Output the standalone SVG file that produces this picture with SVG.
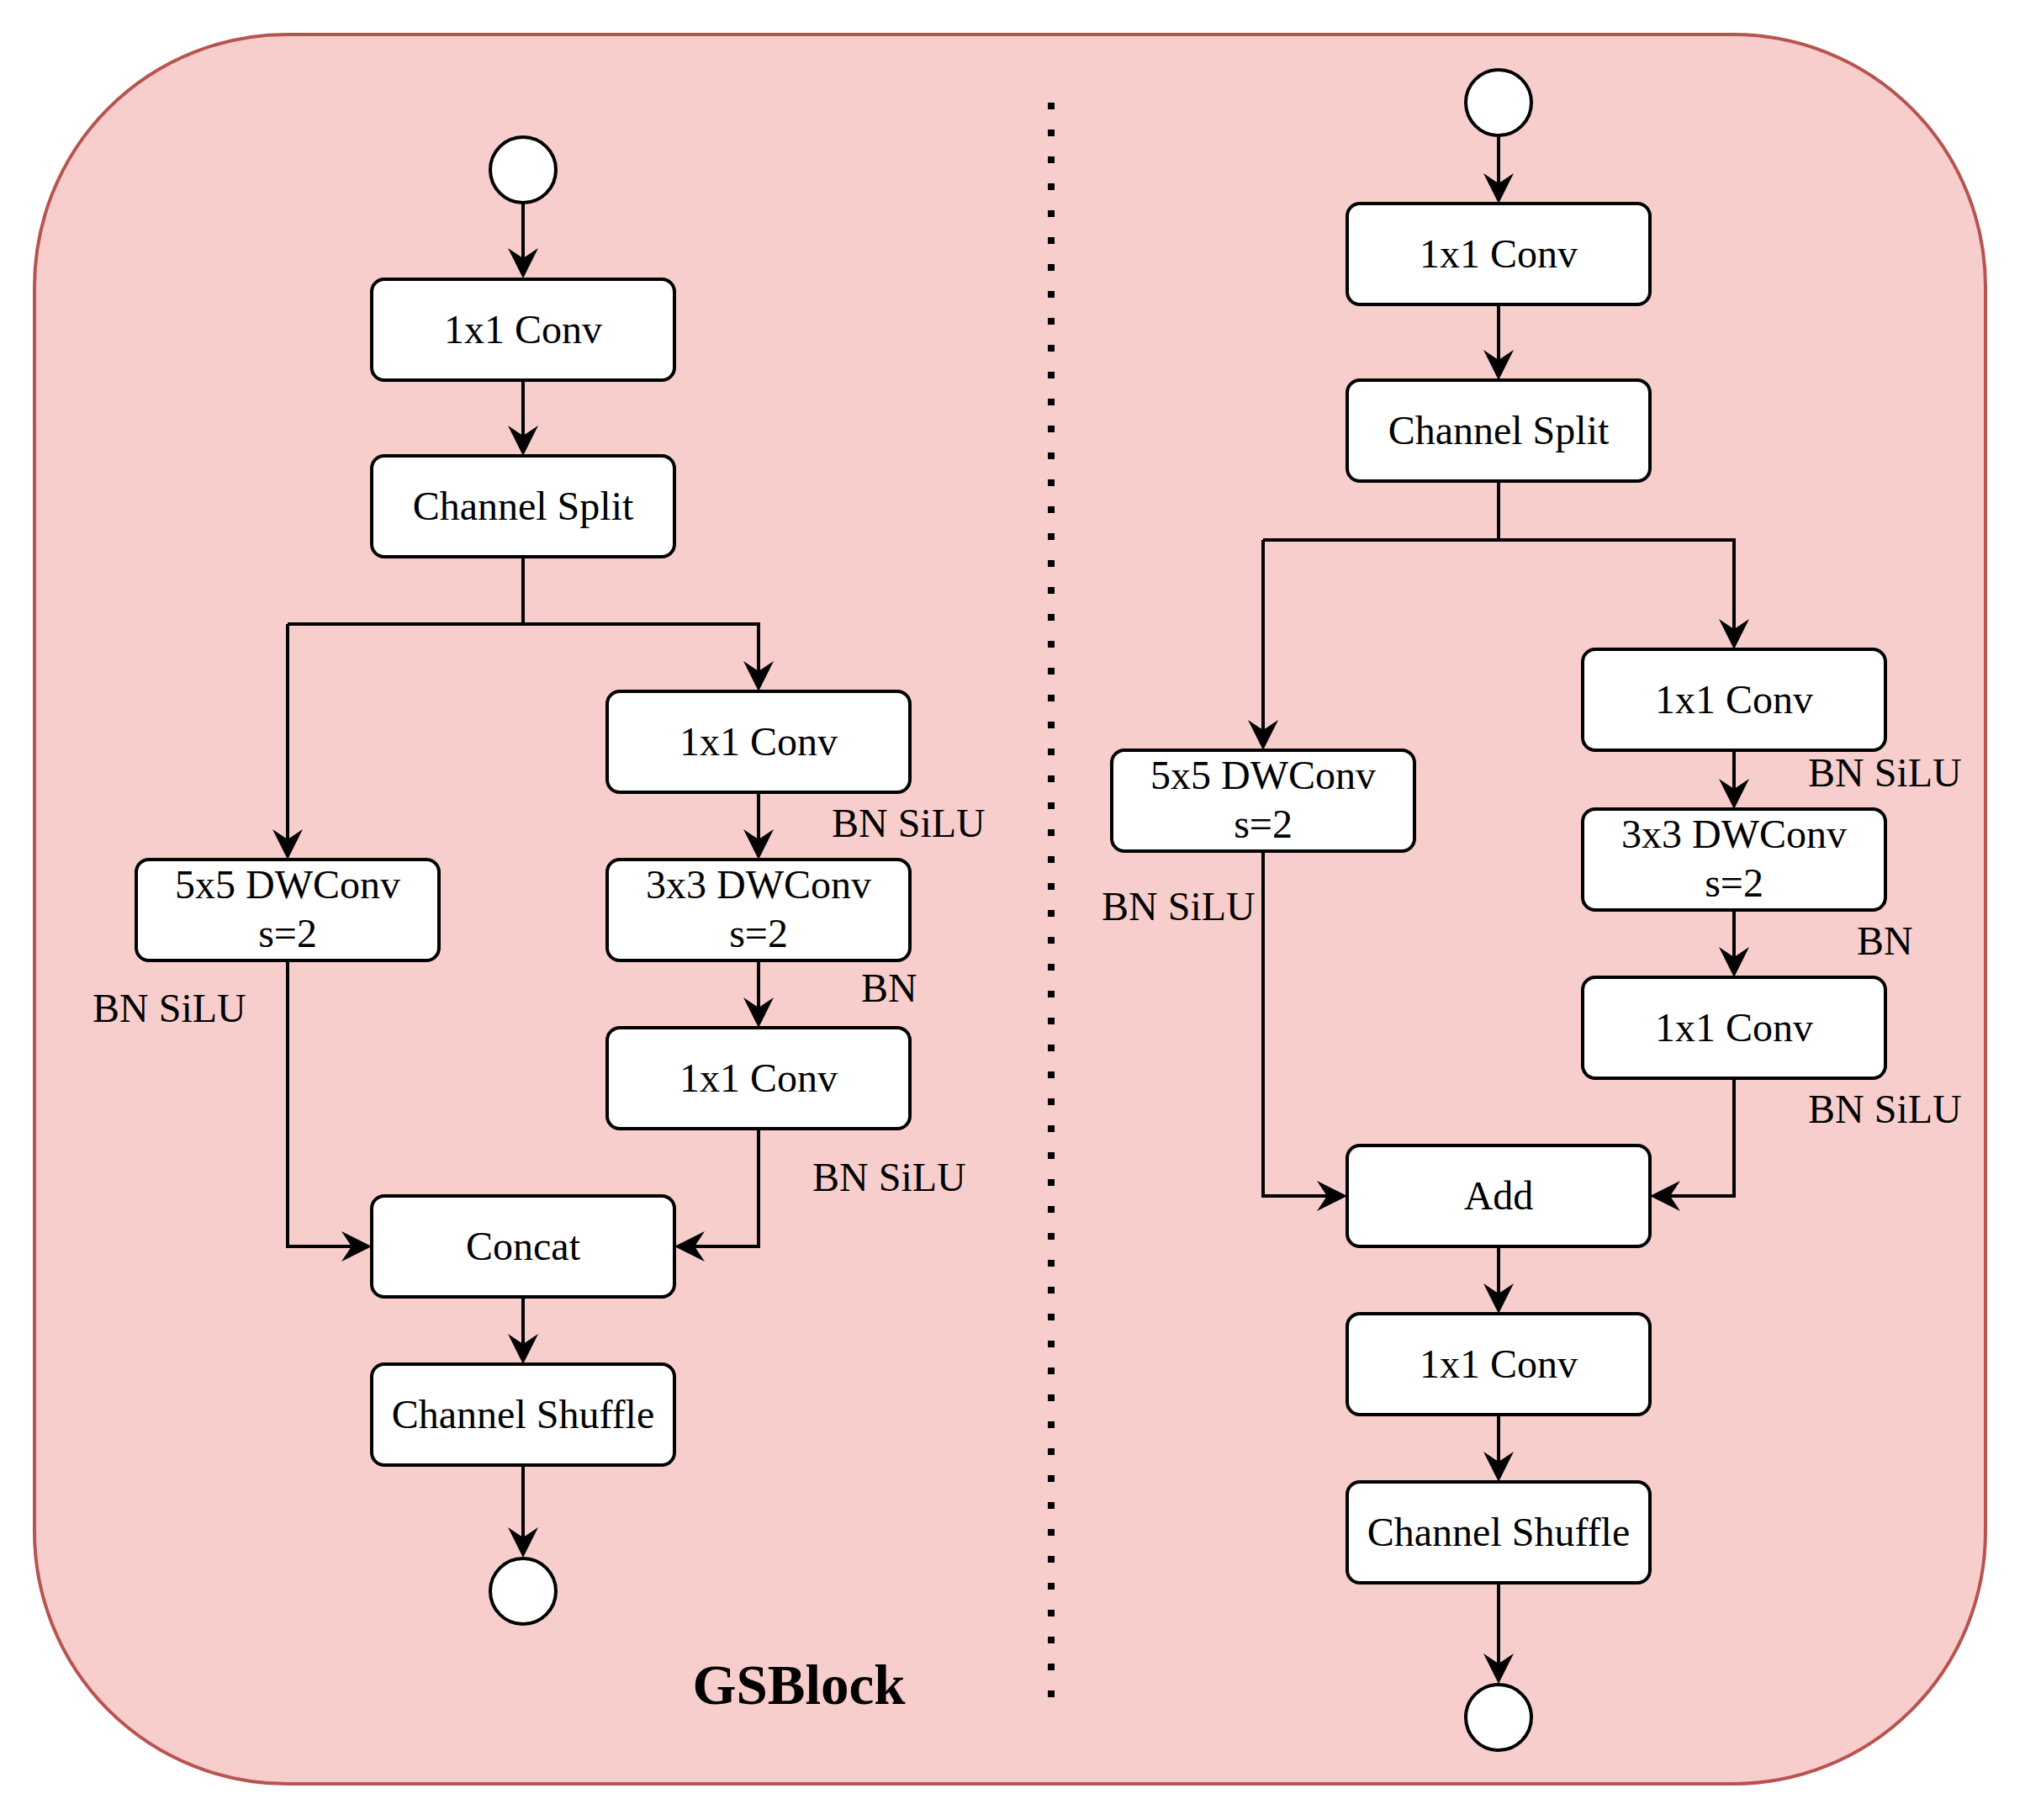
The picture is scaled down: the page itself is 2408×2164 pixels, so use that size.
<svg xmlns="http://www.w3.org/2000/svg" width="2408" height="2164" viewBox="0 0 2408 2164">
<defs>
<marker id="arr" markerUnits="userSpaceOnUse" viewBox="-40 -20 42 40" markerWidth="42" markerHeight="40" refX="-20" refY="0" orient="auto">
<path d="M0,0 L-36,-18 L-24,0 L-36,18 Z" fill="#000"/>
</marker>
<style>
.bg{fill:#f8cecc;stroke:#b85450;stroke-width:4}
.box{fill:#fff;stroke:#000;stroke-width:4}
.circ{fill:#fff;stroke:#000;stroke-width:4}
.t{font-family:"Liberation Serif","Times New Roman",serif;font-size:48px;fill:#000;text-anchor:middle}
.l{font-family:"Liberation Serif","Times New Roman",serif;font-size:48px;fill:#000}
.e{fill:none;stroke:#000;stroke-width:4;marker-end:url(#arr)}
.ln{fill:none;stroke:#000;stroke-width:4}
.title{font-family:"Liberation Serif","Times New Roman",serif;font-size:67px;font-weight:bold;fill:#000;text-anchor:middle}
</style>
</defs>
<rect width="2408" height="2164" fill="#fff"/>
<rect class="bg" x="41" y="41" width="2320" height="2080" rx="300" ry="300"/>
<line x1="1250" y1="122" x2="1250" y2="2020" stroke="#000" stroke-width="8" stroke-dasharray="8 24"/>
<text class="title" x="950" y="2026">GSBlock</text>

<g id="connectors">
<path class="e" d="M622,242 V311"/>
<path class="e" d="M622,452 V522"/>
<path class="ln" d="M622,662 V742 H342"/>
<path class="e" d="M342,742 V1002"/>
<path class="e" d="M622,742 H902 V802"/>
<path class="e" d="M902,942 V1002"/>
<path class="e" d="M902,1142 V1202"/>
<path class="e" d="M342,1142 V1482 H422"/>
<path class="e" d="M902,1342 V1482 H822"/>
<path class="e" d="M622,1542 V1602"/>
<path class="e" d="M622,1742 V1832"/>

<path class="e" d="M1782,162 V222"/>
<path class="e" d="M1782,362 V432"/>
<path class="ln" d="M1782,572 V642 H1502"/>
<path class="e" d="M1502,642 V872"/>
<path class="e" d="M1782,642 H2062 V752"/>
<path class="e" d="M2062,892 V942"/>
<path class="e" d="M2062,1082 V1142"/>
<path class="e" d="M1502,1012 V1422 H1582"/>
<path class="e" d="M2062,1282 V1422 H1982"/>
<path class="e" d="M1782,1482 V1542"/>
<path class="e" d="M1782,1682 V1742"/>
<path class="e" d="M1782,1882 V1982"/>
</g>

<g id="L_in"><circle class="circ" cx="622" cy="202" r="39"/></g>
<g id="L_conv1"><rect class="box" x="442" y="332" width="360" height="120" rx="15"/><text class="t" x="622" y="408">1x1 Conv</text></g>
<g id="L_split"><rect class="box" x="442" y="542" width="360" height="120" rx="15"/><text class="t" x="622" y="618">Channel Split</text></g>
<g id="L_conv2"><rect class="box" x="722" y="822" width="360" height="120" rx="15"/><text class="t" x="902" y="898">1x1 Conv</text></g>
<g id="L_dw5"><rect class="box" x="162" y="1022" width="360" height="120" rx="15"/><text class="t" x="342" y="1068">5x5 DWConv</text><text class="t" x="342" y="1126">s=2</text></g>
<g id="L_dw3"><rect class="box" x="722" y="1022" width="360" height="120" rx="15"/><text class="t" x="902" y="1068">3x3 DWConv</text><text class="t" x="902" y="1126">s=2</text></g>
<g id="L_conv3"><rect class="box" x="722" y="1222" width="360" height="120" rx="15"/><text class="t" x="902" y="1298">1x1 Conv</text></g>
<g id="L_concat"><rect class="box" x="442" y="1422" width="360" height="120" rx="15"/><text class="t" x="622" y="1498">Concat</text></g>
<g id="L_shuffle"><rect class="box" x="442" y="1622" width="360" height="120" rx="15"/><text class="t" x="622" y="1698">Channel Shuffle</text></g>
<g id="L_out"><circle class="circ" cx="622" cy="1892" r="39"/></g>
<g id="L_labels">
<text class="l" x="989" y="995">BN SiLU</text>
<text class="l" x="110" y="1215">BN SiLU</text>
<text class="l" x="1024" y="1191">BN</text>
<text class="l" x="966" y="1416">BN SiLU</text>
</g>

<g id="R_in"><circle class="circ" cx="1782" cy="122" r="39"/></g>
<g id="R_conv1"><rect class="box" x="1602" y="242" width="360" height="120" rx="15"/><text class="t" x="1782" y="318">1x1 Conv</text></g>
<g id="R_split"><rect class="box" x="1602" y="452" width="360" height="120" rx="15"/><text class="t" x="1782" y="528">Channel Split</text></g>
<g id="R_conv2"><rect class="box" x="1882" y="772" width="360" height="120" rx="15"/><text class="t" x="2062" y="848">1x1 Conv</text></g>
<g id="R_dw5"><rect class="box" x="1322" y="892" width="360" height="120" rx="15"/><text class="t" x="1502" y="938">5x5 DWConv</text><text class="t" x="1502" y="996">s=2</text></g>
<g id="R_dw3"><rect class="box" x="1882" y="962" width="360" height="120" rx="15"/><text class="t" x="2062" y="1008">3x3 DWConv</text><text class="t" x="2062" y="1066">s=2</text></g>
<g id="R_conv3"><rect class="box" x="1882" y="1162" width="360" height="120" rx="15"/><text class="t" x="2062" y="1238">1x1 Conv</text></g>
<g id="R_add"><rect class="box" x="1602" y="1362" width="360" height="120" rx="15"/><text class="t" x="1782" y="1438">Add</text></g>
<g id="R_conv4"><rect class="box" x="1602" y="1562" width="360" height="120" rx="15"/><text class="t" x="1782" y="1638">1x1 Conv</text></g>
<g id="R_shuffle"><rect class="box" x="1602" y="1762" width="360" height="120" rx="15"/><text class="t" x="1782" y="1838">Channel Shuffle</text></g>
<g id="R_out"><circle class="circ" cx="1782" cy="2042" r="39"/></g>
<g id="R_labels">
<text class="l" x="2150" y="935">BN SiLU</text>
<text class="l" x="1310" y="1094">BN SiLU</text>
<text class="l" x="2208" y="1135">BN</text>
<text class="l" x="2150" y="1335">BN SiLU</text>
</g>
</svg>
